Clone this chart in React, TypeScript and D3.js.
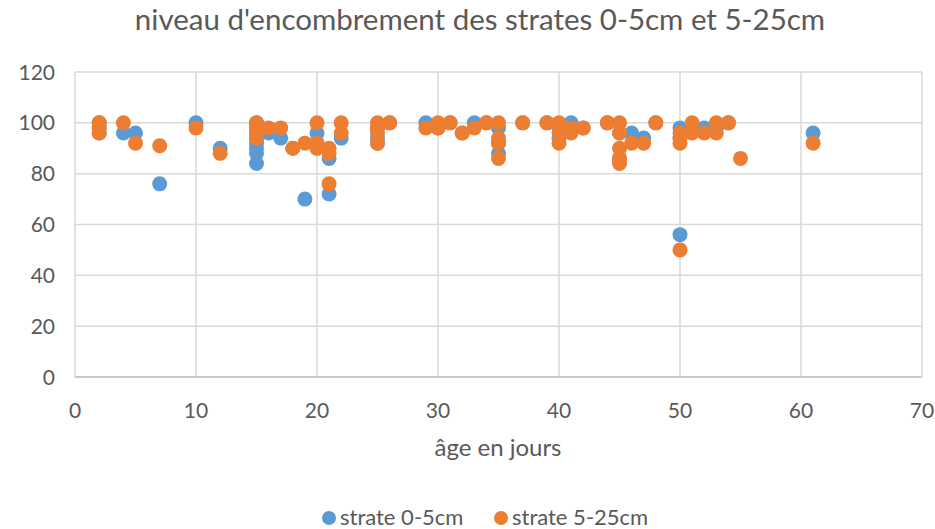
import React from "react";
import * as d3 from "d3";

const title = "niveau d'encombrement des strates 0-5cm et 5-25cm";
const xTitle = "âge en jours";
const seriesNames = ["strate 0-5cm", "strate 5-25cm"];
const colors = ["#5B9BD5", "#ED7D31"];
const xTicks = [0, 10, 20, 30, 40, 50, 60, 70];
const yTicks = [0, 20, 40, 60, 80, 100, 120];

const ageA = [2, 2, 2, 4, 5, 7, 10, 12, 15, 15, 15, 15, 15, 15, 15, 15, 16, 17, 18, 19, 20, 20, 20, 21, 21, 22, 25, 25, 25, 26, 29, 30, 31, 32, 33, 34, 35, 35, 35, 37, 39, 40, 40, 41, 42, 44, 45, 45, 46, 47, 48, 50, 50, 50, 51, 52, 53, 54, 61];
const valA = [100, 98, 96, 96, 96, 76, 100, 90, 100, 98, 96, 94, 92, 90, 88, 84, 96, 94, 90, 70, 96, 92, 90, 86, 72, 94, 98, 94, 92, 100, 100, 98, 100, 96, 100, 100, 98, 92, 88, 100, 100, 98, 94, 100, 98, 100, 96, 86, 96, 94, 100, 98, 94, 56, 98, 98, 98, 100, 96];

const ageB = [2, 2, 2, 4, 5, 7, 10, 12, 15, 15, 15, 15, 16, 17, 18, 19, 20, 20, 20, 21, 21, 21, 22, 22, 25, 25, 25, 25, 26, 29, 30, 30, 31, 32, 33, 34, 35, 35, 35, 35, 37, 39, 40, 40, 40, 41, 41, 42, 44, 45, 45, 45, 45, 45, 46, 47, 48, 50, 50, 50, 50, 51, 51, 52, 53, 53, 54, 55, 61];
const valB = [100, 98, 96, 100, 92, 91, 98, 88, 100, 98, 96, 94, 98, 98, 90, 92, 100, 92, 90, 90, 88, 76, 100, 96, 100, 98, 96, 92, 100, 98, 100, 98, 100, 96, 98, 100, 100, 94, 92, 86, 100, 100, 100, 96, 92, 98, 96, 98, 100, 100, 96, 90, 86, 84, 92, 92, 100, 96, 94, 92, 50, 100, 96, 96, 100, 96, 100, 86, 92];

const W = 935;
const H = 529;
const left = 75;
const right = 922;
const top = 72;
const bottom = 377;
const font = "Lato, 'Open Sans', sans-serif";
const textColor = "#595959";

export default function App() {
  const x = d3.scaleLinear().domain([0, 70]).range([left, right]);
  const y = d3.scaleLinear().domain([0, 120]).range([bottom, top]);
  const series = [
    ageA.map((a, i) => [a, valA[i]]),
    ageB.map((a, i) => [a, valB[i]]),
  ];
  const r = 7.5;
  return (
    <svg
      width={W}
      height={H}
      style={{ position: "fixed", left: 0, top: 0, background: "#fff" }}
      fontFamily={font}
    >
      <rect x={0} y={0} width={W} height={H} fill="#fff" />
      <text x={480} y={30} textAnchor="middle" fontSize={29.5} fill={textColor}>
        {title}
      </text>
      {yTicks.map((t) => (
        <line key={"gy" + t} x1={left} x2={right} y1={y(t)} y2={y(t)} stroke="#d9d9d9" strokeWidth={1.5} />
      ))}
      {xTicks.map((t) => (
        <line key={"gx" + t} x1={x(t)} x2={x(t)} y1={top} y2={bottom} stroke="#d9d9d9" strokeWidth={1.5} />
      ))}
      <line x1={left} x2={right} y1={bottom} y2={bottom} stroke="#bfbfbf" strokeWidth={1.5} />
      {yTicks.map((t) => (
        <text key={"ty" + t} x={55} y={y(t) + 7.5} textAnchor="end" fontSize={21} fill={textColor}>
          {t}
        </text>
      ))}
      {xTicks.map((t) => (
        <text key={"tx" + t} x={x(t)} y={418} textAnchor="middle" fontSize={21} fill={textColor}>
          {t}
        </text>
      ))}
      <text x={498} y={456} textAnchor="middle" fontSize={24} fill={textColor}>
        {xTitle}
      </text>
      {series.map((pts, si) => (
        <g key={"s" + si}>
          {pts.map((p, i) => (
            <circle key={i} cx={x(p[0])} cy={y(p[1])} r={r} fill={colors[si]} />
          ))}
        </g>
      ))}
      <g>
        <circle cx={329} cy={518} r={7} fill={colors[0]} />
        <text x={340} y={525} fontSize={22} fill={textColor}>{seriesNames[0]}</text>
        <circle cx={501} cy={518} r={7} fill={colors[1]} />
        <text x={512} y={525} fontSize={22} fill={textColor}>{seriesNames[1]}</text>
      </g>
    </svg>
  );
}
